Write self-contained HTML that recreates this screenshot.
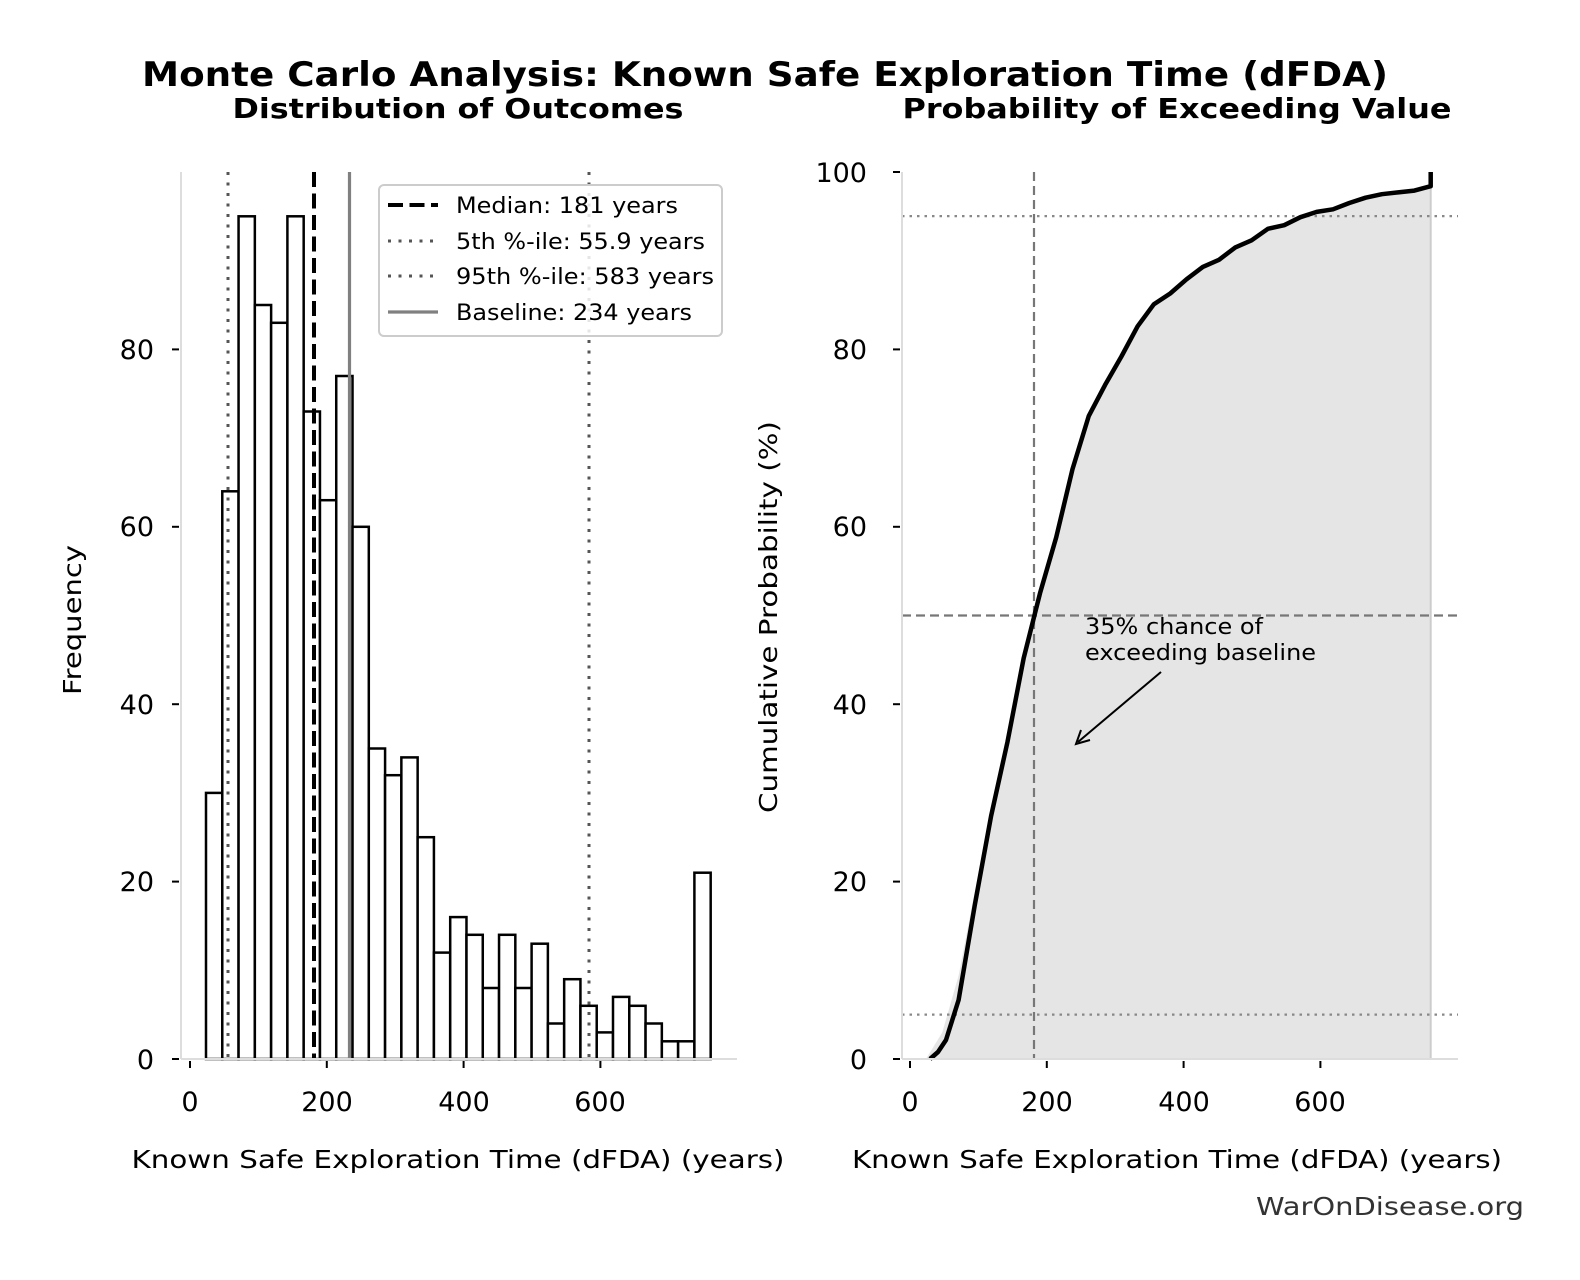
<!DOCTYPE html>
<html><head><meta charset="utf-8"><style>
html,body{margin:0;padding:0;background:#fff;}
svg{display:block;font-family:"DejaVu Sans","Liberation Sans",sans-serif;}
</style></head><body>
<svg width="1580" height="1280" viewBox="0 0 1580 1280" xmlns="http://www.w3.org/2000/svg">
<rect width="1580" height="1280" fill="#fff"/>
<text x="765" y="86" font-size="34" font-weight="bold" text-anchor="middle" textLength="1246" lengthAdjust="spacingAndGlyphs">Monte Carlo Analysis: Known Safe Exploration Time (dFDA)</text>
<text x="458" y="118" font-size="28" font-weight="bold" text-anchor="middle" textLength="451" lengthAdjust="spacingAndGlyphs">Distribution of Outcomes</text>
<text x="1177" y="118" font-size="28" font-weight="bold" text-anchor="middle" textLength="549" lengthAdjust="spacingAndGlyphs">Probability of Exceeding Value</text>

<!-- LEFT -->
<g stroke="#000" stroke-width="2.5" fill="#fff">
<rect x="206" y="792.9" width="16.28" height="266.1"/>
<rect x="222.28" y="491.3" width="16.28" height="567.7"/>
<rect x="238.56" y="216.3" width="16.28" height="842.7"/>
<rect x="254.84" y="305" width="16.28" height="754"/>
<rect x="271.12" y="322.8" width="16.28" height="736.2"/>
<rect x="287.4" y="216.3" width="16.28" height="842.7"/>
<rect x="303.68" y="411.5" width="16.28" height="647.5"/>
<rect x="319.96" y="500.2" width="16.28" height="558.8"/>
<rect x="336.24" y="376" width="16.28" height="683"/>
<rect x="352.52" y="526.8" width="16.28" height="532.2"/>
<rect x="368.8" y="748.5" width="16.28" height="310.5"/>
<rect x="385.08" y="775.2" width="16.28" height="283.8"/>
<rect x="401.36" y="757.4" width="16.28" height="301.6"/>
<rect x="417.64" y="837.2" width="16.28" height="221.8"/>
<rect x="433.92" y="952.6" width="16.28" height="106.4"/>
<rect x="450.2" y="917.1" width="16.28" height="141.9"/>
<rect x="466.48" y="934.8" width="16.28" height="124.2"/>
<rect x="482.76" y="988" width="16.28" height="71"/>
<rect x="499.04" y="934.8" width="16.28" height="124.2"/>
<rect x="515.32" y="988" width="16.28" height="71"/>
<rect x="531.6" y="943.7" width="16.28" height="115.3"/>
<rect x="547.88" y="1023.5" width="16.28" height="35.5"/>
<rect x="564.16" y="979.2" width="16.28" height="79.8"/>
<rect x="580.44" y="1005.8" width="16.28" height="53.2"/>
<rect x="596.72" y="1032.4" width="16.28" height="26.6"/>
<rect x="613" y="996.9" width="16.28" height="62.1"/>
<rect x="629.28" y="1005.8" width="16.28" height="53.2"/>
<rect x="645.56" y="1023.5" width="16.28" height="35.5"/>
<rect x="661.84" y="1041.3" width="16.28" height="17.7"/>
<rect x="678.12" y="1041.3" width="16.28" height="17.7"/>
<rect x="694.4" y="872.7" width="16.28" height="186.3"/>
</g>
<line x1="228" y1="172" x2="228" y2="1059" stroke="#555" stroke-width="3" stroke-dasharray="3,7.5"/>
<line x1="589" y1="172" x2="589" y2="1059" stroke="#555" stroke-width="3" stroke-dasharray="3,7.5"/>
<line x1="314" y1="172" x2="314" y2="1059" stroke="#000" stroke-width="4" stroke-dasharray="15,6.5"/>
<line x1="349.5" y1="172" x2="349.5" y2="1059" stroke="#808080" stroke-width="3.2"/>
<line x1="181" y1="172" x2="181" y2="1059" stroke="#ddd" stroke-width="2"/>
<line x1="181" y1="1059" x2="737" y2="1059" stroke="#ddd" stroke-width="2"/>
<g stroke="#000" stroke-width="2">
<line x1="172" y1="1059" x2="179" y2="1059"/><line x1="172" y1="881.6" x2="179" y2="881.6"/><line x1="172" y1="704.2" x2="179" y2="704.2"/><line x1="172" y1="526.8" x2="179" y2="526.8"/><line x1="172" y1="349.4" x2="179" y2="349.4"/>
<line x1="190" y1="1061" x2="190" y2="1068"/><line x1="326.8" y1="1061" x2="326.8" y2="1068"/><line x1="463.6" y1="1061" x2="463.6" y2="1068"/><line x1="600.4" y1="1061" x2="600.4" y2="1068"/>
</g>
<g font-size="27" text-anchor="end">
<text x="154" y="1069">0</text><text x="154" y="891">20</text><text x="154" y="714">40</text><text x="154" y="536">60</text><text x="154" y="359">80</text>
</g>
<g font-size="27" text-anchor="middle">
<text x="190" y="1111">0</text><text x="327" y="1111">200</text><text x="464" y="1111">400</text><text x="600" y="1111">600</text>
</g>
<text x="458" y="1168" font-size="25" text-anchor="middle" textLength="653" lengthAdjust="spacingAndGlyphs">Known Safe Exploration Time (dFDA) (years)</text>
<text transform="translate(81,620) rotate(-90)" font-size="25" text-anchor="middle" textLength="150" lengthAdjust="spacingAndGlyphs">Frequency</text>

<!-- legend -->
<rect x="379" y="185" width="343" height="151" rx="5" fill="#fff" fill-opacity="0.85" stroke="#ccc" stroke-width="2"/>
<line x1="388" y1="205" x2="438" y2="205" stroke="#000" stroke-width="4" stroke-dasharray="15,6.5"/>
<line x1="388" y1="241" x2="438" y2="241" stroke="#555" stroke-width="3" stroke-dasharray="3,7.5"/>
<line x1="388" y1="276" x2="438" y2="276" stroke="#555" stroke-width="3" stroke-dasharray="3,7.5"/>
<line x1="388" y1="312" x2="438" y2="312" stroke="#808080" stroke-width="3.2"/>
<g font-size="22">
<text x="456" y="213" textLength="222" lengthAdjust="spacingAndGlyphs">Median: 181 years</text>
<text x="456" y="249" textLength="249" lengthAdjust="spacingAndGlyphs">5th %-ile: 55.9 years</text>
<text x="456" y="284" textLength="258" lengthAdjust="spacingAndGlyphs">95th %-ile: 583 years</text>
<text x="456" y="320" textLength="236" lengthAdjust="spacingAndGlyphs">Baseline: 234 years</text>
</g>

<!-- RIGHT -->
<polygon fill="#e5e5e5" points="926,1059 942.3,1032.4 958.6,975.6 974.8,891.4 991.1,816 1007.4,742.3 1023.7,658.1 1040,593.3 1056.2,537.4 1072.5,469.1 1088.8,415.9 1105.1,384.9 1121.4,356.5 1137.6,326.3 1153.9,304.2 1170.2,293.5 1186.5,279.3 1202.8,266.9 1219,259.8 1235.3,247.4 1251.6,240.3 1267.9,228.8 1284.2,225.2 1300.4,217.2 1316.7,211.9 1333,209.3 1349.3,203 1365.6,197.7 1381.8,194.2 1398.1,192.4 1414.4,190.6 1430.7,186.2 1430.7,1059"/>
<line x1="1430.7" y1="186" x2="1430.7" y2="1059" stroke="#ccc" stroke-width="2"/>
<line x1="902" y1="216.1" x2="1458" y2="216.1" stroke="#888" stroke-width="2.2" stroke-dasharray="2.5,5"/>
<line x1="902" y1="1014.6" x2="1458" y2="1014.6" stroke="#888" stroke-width="2.2" stroke-dasharray="2.5,5"/>
<line x1="902" y1="615.5" x2="1458" y2="615.5" stroke="#777" stroke-width="2.2" stroke-dasharray="9,5"/>
<line x1="1034" y1="172" x2="1034" y2="1059" stroke="#777" stroke-width="2.2" stroke-dasharray="9,5"/>
<polyline fill="none" stroke="#000" stroke-width="4.5" stroke-linejoin="round" points="930,1059 938,1052 946,1040 958.6,1000 974.8,905 991.1,816 1007.4,742.3 1023.7,658.1 1040,593.3 1056.2,537.4 1072.5,469.1 1088.8,415.9 1105.1,384.9 1121.4,356.5 1137.6,326.3 1153.9,304.2 1170.2,293.5 1186.5,279.3 1202.8,266.9 1219,259.8 1235.3,247.4 1251.6,240.3 1267.9,228.8 1284.2,225.2 1300.4,217.2 1316.7,211.9 1333,209.3 1349.3,203 1365.6,197.7 1381.8,194.2 1398.1,192.4 1414.4,190.6 1430.7,186.2 1430.7,172"/>
<line x1="902" y1="172" x2="902" y2="1059" stroke="#ddd" stroke-width="2"/>
<line x1="902" y1="1059" x2="1458" y2="1059" stroke="#ddd" stroke-width="2"/>
<g stroke="#000" stroke-width="2">
<line x1="893" y1="1059" x2="900" y2="1059"/><line x1="893" y1="881.6" x2="900" y2="881.6"/><line x1="893" y1="704.2" x2="900" y2="704.2"/><line x1="893" y1="526.8" x2="900" y2="526.8"/><line x1="893" y1="349.4" x2="900" y2="349.4"/><line x1="893" y1="172" x2="900" y2="172"/>
<line x1="910" y1="1061" x2="910" y2="1068"/><line x1="1046.8" y1="1061" x2="1046.8" y2="1068"/><line x1="1183.6" y1="1061" x2="1183.6" y2="1068"/><line x1="1320.4" y1="1061" x2="1320.4" y2="1068"/>
</g>
<g font-size="27" text-anchor="end">
<text x="867" y="1069">0</text><text x="867" y="891">20</text><text x="867" y="714">40</text><text x="867" y="536">60</text><text x="867" y="359">80</text><text x="867" y="182">100</text>
</g>
<g font-size="27" text-anchor="middle">
<text x="910" y="1111">0</text><text x="1047" y="1111">200</text><text x="1184" y="1111">400</text><text x="1320" y="1111">600</text>
</g>
<text x="1177" y="1168" font-size="25" text-anchor="middle" textLength="650" lengthAdjust="spacingAndGlyphs">Known Safe Exploration Time (dFDA) (years)</text>
<text transform="translate(777,617) rotate(-90)" font-size="25" text-anchor="middle" textLength="392" lengthAdjust="spacingAndGlyphs">Cumulative Probability (%)</text>
<text x="1085" y="634" font-size="22" textLength="178" lengthAdjust="spacingAndGlyphs">35% chance of</text>
<text x="1085" y="660" font-size="22" textLength="231" lengthAdjust="spacingAndGlyphs">exceeding baseline</text>
<line x1="1161" y1="672" x2="1078" y2="742" stroke="#000" stroke-width="2"/>
<polyline points="1081,730 1076,744 1090,740" fill="none" stroke="#000" stroke-width="2"/>
<text x="1524" y="1215" font-size="25" fill="#333" text-anchor="end" textLength="268" lengthAdjust="spacingAndGlyphs">WarOnDisease.org</text>
</svg>
</body></html>
